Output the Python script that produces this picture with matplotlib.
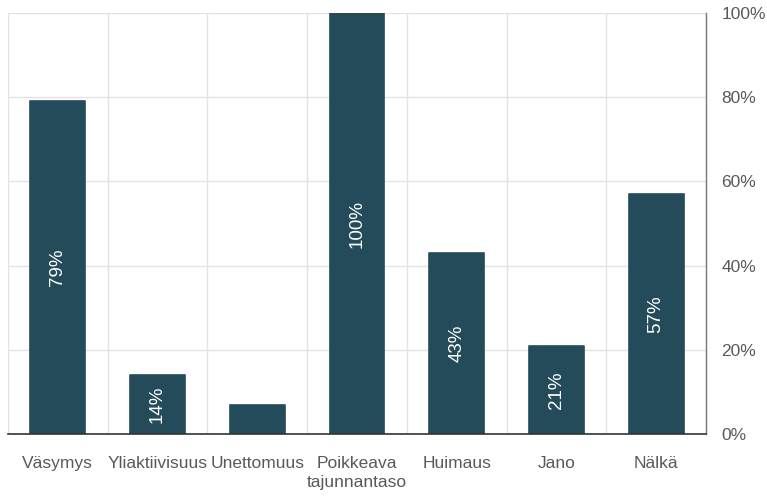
import matplotlib
matplotlib.use("Agg")
import matplotlib.pyplot as plt
from matplotlib.ticker import FixedLocator, PercentFormatter

categories = ["Väsymys", "Yliaktiivisuus", "Unettomuus", "Poikkeava\ntajunnantaso",
              "Huimaus", "Jano", "Nälkä"]
values = [79, 14, 7, 100, 43, 21, 57]
show_label = [True, True, False, True, True, True, True]
y_ticks = [0, 20, 40, 60, 80, 100]

bar_color = "#234b5a"
text_gray = "#595959"

plt.rcParams["font.family"] = ["Liberation Sans", "DejaVu Sans"]

fig = plt.figure(figsize=(7.67, 4.97), dpi=100)
ax = fig.add_axes([8 / 767, 1 - 434 / 497, 698 / 767, 421 / 497])

x = list(range(len(categories)))
bars = ax.bar(x, values, width=0.55, color=bar_color, edgecolor=bar_color,
              linewidth=1.2, joinstyle="round", zorder=3)

for xi, v, show in zip(x, values, show_label):
    if show:
        ax.text(xi, v / 2, f"{v}%", rotation=90, ha="center", va="center",
                color="white", fontsize=13.5, zorder=4)

ax.set_xlim(-0.5, len(categories) - 0.5)
ax.set_ylim(0, 100)

ax.set_xticks(x)
ax.set_xticklabels(categories, color=text_gray, fontsize=12.5, linespacing=1.35)
ax.xaxis.set_minor_locator(FixedLocator([i - 0.5 for i in range(len(categories) + 1)]))
ax.tick_params(axis="x", which="both", length=0, pad=16)
ax.grid(axis="x", which="minor", color="#e3e3e3", linewidth=1, zorder=0)

ax.yaxis.tick_right()
ax.set_yticks(y_ticks)
ax.yaxis.set_major_formatter(PercentFormatter(decimals=0))
ax.tick_params(axis="y", length=0, pad=11, labelsize=12.5, labelcolor=text_gray)
ax.grid(axis="y", which="major", color="#e3e3e3", linewidth=1, zorder=0)

for side in ["top", "left"]:
    ax.spines[side].set_visible(False)
ax.spines["right"].set_color("#777777")
ax.spines["right"].set_linewidth(1)
ax.spines["bottom"].set_color("#333333")
ax.spines["bottom"].set_linewidth(1.2)
ax.spines["right"].set_zorder(5)
ax.spines["bottom"].set_zorder(5)

fig.savefig("out.png", dpi=100)
